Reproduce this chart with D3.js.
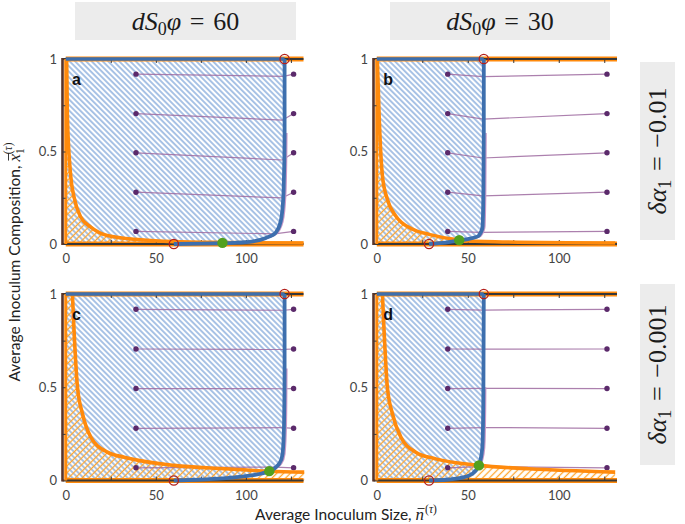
<!DOCTYPE html>
<html>
<head>
<meta charset="utf-8" />
<title>Inoculum phase plane</title>
<style>
  body { margin: 0; background: #fff; }
  svg text { font-family: Lato, "Open Sans", sans-serif; }
</style>
</head>
<body>
<script src="https://d3js.org/d3.v7.min.js"></script>
<script>
    // tick values / labels
    var xTicks = [0, 50, 100];
    var yTicks = [0, 0.5, 1];
    var minorX = [25, 50, 75, 100, 125];
    var minorY = [0.25, 0.5, 0.75];
    var colValues = ["60", "30"];
    var rowValues = ["\u22120.01", "\u22120.001"];
    var letters = ["a", "b", "c", "d"];

    // blue nullcline [n, x], sorted by x
    var blueA = [[60,0],[75,0.002],[87,0.004],[95,0.007],[104.5,0.015],[112,0.036],[116.7,0.063],[119.8,0.145],[121,0.3],[121.5,0.6],[121.5,1]];
    var blueB = [[28.7,0],[37.8,0.008],[45.3,0.02],[50.6,0.028],[56.1,0.045],[58.2,0.099],[58.6,0.3],[58.8,0.6],[58.8,1]];
    var blueC = [[60,0],[75,0.005],[85,0.01],[95,0.018],[105,0.03],[113,0.05],[118.5,0.09],[120.4,0.143],[121.2,0.3],[121.5,0.6],[121.5,1]];
    var blueD = [[28.7,0],[37.8,0.004],[47,0.015],[52.5,0.036],[56.1,0.081],[57.6,0.143],[58.2,0.215],[58.6,0.5],[58.8,1]];

    // orange nullcline [n, x], sorted by n
    var orangeA = [[0.5,1],[0.9,0.69],[2.8,0.363],[4.6,0.254],[8.3,0.146],[13.9,0.091],[23,0.046],[41.7,0.023],[60,0.013],[87,0.008],[132,0.005]];
    var orangeB = [[0.3,1],[1.3,0.69],[3.1,0.368],[5.8,0.242],[10.4,0.152],[19.5,0.081],[28.7,0.052],[45.3,0.022],[65,0.012],[131,0.005]];
    var orangeC = [[3.7,1],[4.6,0.806],[6.5,0.502],[9.3,0.358],[13.9,0.233],[23.1,0.152],[32.4,0.125],[60.2,0.081],[88,0.063],[113,0.05],[132.4,0.045]];
    var orangeD = [[3.1,1],[4,0.806],[5.8,0.502],[8.6,0.358],[13.2,0.233],[21.4,0.152],[32.4,0.116],[56.1,0.081],[83.5,0.063],[131,0.045]];

    // fixed points
    var greenPts = [[87,0.006],[45.3,0.021],[113,0.05],[56.1,0.081]];
    var redTopN = [121.5, 58.8, 121.5, 58.8];
    var redBottomN = [60, 28.7, 60, 28.7];

    // trajectories
    var trajStartN = [39, 126.5];
    var trajStartX = [0.918, 0.705, 0.493, 0.28, 0.068];
    var trajEndA = [[121,0.906],[120.5,0.67],[120.3,0.454],[120,0.249],[116,0.055]];
    var trajEndB = [[58.5,0.905],[58.5,0.675],[58.3,0.465],[58.2,0.26],[57,0.063]];
    var trajEndC = [[121.2,0.913],[121.2,0.703],[121,0.492],[120.8,0.283],[116,0.072]];
    var trajEndD = [[58.6,0.914],[58.5,0.704],[58.4,0.494],[58.2,0.284],[56,0.074]];

    var width = 685, height = 524;
    var svg = d3.select("body").append("svg")
                .attr("width", width)
                .attr("height", height);

    var defs = svg.append("defs");
    function hatch(id, color, angle, gap, sw) {
        var p = defs.append("pattern")
                    .attr("id", id)
                    .attr("patternUnits", "userSpaceOnUse")
                    .attr("width", gap)
                    .attr("height", gap)
                    .attr("patternTransform", "rotate(" + angle + ")");
        p.append("line")
         .attr("x1", gap / 2).attr("x2", gap / 2)
         .attr("y1", 0).attr("y2", gap)
         .attr("stroke", color)
         .attr("stroke-width", sw);
    }
    hatch("hBlue", "#76a0d6", -45, 3.9, 1.25);
    hatch("hOrange", "#ffa62e", 45, 4.8, 1.3);

    var cols = [{left: 62.5, right: 303.5}, {left: 373.5, right: 617}];
    var rows = [{top: 59, bottom: 244}, {top: 294, bottom: 480.5}];

    var panels = [
        {blue: blueA, orange: orangeA, ends: trajEndA, col: 0, row: 0},
        {blue: blueB, orange: orangeB, ends: trajEndB, col: 1, row: 0},
        {blue: blueC, orange: orangeC, ends: trajEndC, col: 0, row: 1},
        {blue: blueD, orange: orangeD, ends: trajEndD, col: 1, row: 1}
    ];

    var blueCol = "#3d6fae", orangeCol = "#ff8a0c", frameCol = "#383838";

    panels.forEach(function(p, i) {
        var c = cols[p.col], r = rows[p.row];
        var x = d3.scaleLinear().domain([-1.8, 132]).range([c.left, c.right]);
        var y = d3.scaleLinear().domain([0, 1]).range([r.bottom, r.top]);
        var g = svg.append("g");

        // hatched basins
        var blueArea = d3.area().curve(d3.curveMonotoneY)
                         .y(d => y(d[1]))
                         .x0(x(0))
                         .x1(d => x(d[0]));
        g.append("path").datum(p.blue)
         .attr("d", blueArea)
         .attr("fill", "url(#hBlue)");

        var orangeArea = d3.area().curve(d3.curveMonotoneX)
                           .x(d => x(d[0]))
                           .y0(y(0))
                           .y1(d => y(d[1]));
        g.append("path").datum([[0, 1]].concat(p.orange))
         .attr("d", orangeArea)
         .attr("fill", "url(#hOrange)");

        // boundaries
        [0, 1].forEach(function(v) {
            g.append("line")
             .attr("x1", x(0)).attr("x2", c.right)
             .attr("y1", y(v)).attr("y2", y(v))
             .attr("stroke", orangeCol).attr("stroke-width", 5);
            g.append("line")
             .attr("x1", c.left).attr("x2", c.right)
             .attr("y1", y(v)).attr("y2", y(v))
             .attr("stroke", frameCol).attr("stroke-width", 2.2);
        });
        g.append("line")
         .attr("x1", x(0)).attr("x2", x(0))
         .attr("y1", y(0)).attr("y2", y(1))
         .attr("stroke", orangeCol).attr("stroke-width", 3);
        g.append("line")
         .attr("x1", c.left).attr("x2", c.left)
         .attr("y1", y(0) + 1).attr("y2", y(1) - 1)
         .attr("stroke", "#5a3428").attr("stroke-width", 2.6);

        // inner ticks
        g.append("g").attr("transform", "translate(0," + y(1) + ")")
         .call(d3.axisTop(x).tickValues(minorX).tickSize(-4).tickFormat(""))
         .call(a => a.select(".domain").remove())
         .selectAll("line").attr("stroke", frameCol);
        g.append("g").attr("transform", "translate(0," + y(0) + ")")
         .call(d3.axisBottom(x).tickValues(minorX).tickSize(-4).tickFormat(""))
         .call(a => a.select(".domain").remove())
         .selectAll("line").attr("stroke", frameCol);
        g.append("g").attr("transform", "translate(" + c.left + ",0)")
         .call(d3.axisLeft(y).tickValues(minorY).tickSize(-3).tickFormat(""))
         .call(a => a.select(".domain").remove())
         .selectAll("line").attr("stroke", frameCol);

        // tick labels
        var xa = g.append("g").attr("transform", "translate(0," + r.bottom + ")")
                  .call(d3.axisBottom(x).tickValues(xTicks).tickSize(0).tickPadding(10));
        xa.select(".domain").remove();
        xa.selectAll("text").attr("fill", "#444").style("font-size", "13px")
          .style("font-family", "Lato, sans-serif");
        var ya = g.append("g").attr("transform", "translate(" + c.left + ",0)")
                  .call(d3.axisLeft(y).tickValues(yTicks).tickSize(0).tickPadding(5.5)
                        .tickFormat(d3.format("")));
        ya.select(".domain").remove();
        ya.selectAll("text").attr("fill", "#444").style("font-size", "13px")
          .style("font-family", "Lato, sans-serif");

        // trajectories
        var line = d3.line().x(d => x(d[0])).y(d => y(d[1]));
        p.ends.forEach(function(e, j) {
            trajStartN.forEach(function(n0) {
                g.append("path").datum([[n0, trajStartX[j]], e])
                 .attr("d", line)
                 .attr("fill", "none")
                 .attr("stroke", "#9d6aa0")
                 .attr("stroke-opacity", 0.85)
                 .attr("stroke-width", 1.2);
            });
        });
        // paths that creep down the blue nullcline
        var green = greenPts[i];
        var halo = p.blue.filter(d => d[1] >= green[1] && d[1] <= trajStartX[0]);
        g.append("path").datum([green].concat(halo))
         .attr("d", d3.line().curve(d3.curveMonotoneY).x(d => x(d[0]) + 2.2).y(d => y(d[1])))
         .attr("fill", "none")
         .attr("stroke", "#c89ac8")
         .attr("stroke-width", 1.6);

        p.ends.forEach(function(e, j) {
            trajStartN.forEach(function(n0) {
                g.append("circle")
                 .attr("cx", x(n0)).attr("cy", y(trajStartX[j]))
                 .attr("r", 2.7)
                 .attr("fill", "#5b2a6b");
            });
        });

        // nullclines
        g.append("path").datum(p.orange)
         .attr("d", d3.line().curve(d3.curveMonotoneX).x(d => x(d[0])).y(d => y(d[1])))
         .attr("fill", "none")
         .attr("stroke", orangeCol)
         .attr("stroke-width", 3.6);
        g.append("line")
         .attr("x1", x(0)).attr("x2", x(redTopN[i]))
         .attr("y1", y(1)).attr("y2", y(1))
         .attr("stroke", blueCol).attr("stroke-width", 3.4);
        g.append("path").datum(p.blue)
         .attr("d", d3.line().curve(d3.curveMonotoneY).x(d => x(d[0])).y(d => y(d[1])))
         .attr("fill", "none")
         .attr("stroke", blueCol)
         .attr("stroke-width", 3.8);

        // fixed points
        [redTopN[i], redBottomN[i]].forEach(function(n, k) {
            g.append("circle")
             .attr("cx", x(n)).attr("cy", y(k === 0 ? 1 : 0))
             .attr("r", 4.6)
             .attr("fill", "none")
             .attr("stroke", "#b3201c")
             .attr("stroke-width", 1.3);
        });
        g.append("circle")
         .attr("cx", x(green[0])).attr("cy", y(green[1]))
         .attr("r", 5.2)
         .attr("fill", "#52a01e");

        g.append("text")
         .attr("x", x(3.5)).attr("y", y(0.86))
         .style("font-family", "'Liberation Sans', Arial, sans-serif")
         .style("font-weight", "bold")
         .style("font-size", "16px")
         .attr("fill", "#111")
         .text(letters[i]);
    });

    // strips
    var serif = "'Liberation Serif', 'DejaVu Serif', serif";
    var topBoxes = [{x: 75, w: 221}, {x: 390, w: 220}];
    topBoxes.forEach(function(b, k) {
        svg.append("rect").attr("x", b.x).attr("y", 2).attr("width", b.w).attr("height", 38)
           .attr("fill", "#ececec");
        var t = svg.append("text")
                   .attr("x", b.x + b.w / 2).attr("y", 29.5)
                   .attr("text-anchor", "middle")
                   .style("font-family", serif)
                   .style("font-size", "26px")
                   .attr("fill", "#1a1a1a");
        t.append("tspan").style("font-style", "italic").text("dS");
        t.append("tspan").attr("dy", 5).style("font-size", "18px").text("0");
        t.append("tspan").attr("dy", -5).style("font-style", "italic").text("\u03C6");
        t.append("tspan").text("\u2004=\u2004" + colValues[k]);
    });

    var sideBoxes = [{y: 62, h: 178}, {y: 284, h: 181}];
    sideBoxes.forEach(function(b, k) {
        svg.append("rect").attr("x", 640).attr("y", b.y).attr("width", 35).attr("height", b.h)
           .attr("fill", "#ececec");
        var cx = 657.5, cy = b.y + b.h / 2;
        var t = svg.append("text")
                   .attr("transform", "translate(" + (cx + 8) + "," + cy + ") rotate(-90)")
                   .attr("text-anchor", "middle")
                   .style("font-family", serif)
                   .style("font-size", "26px")
                   .attr("fill", "#1a1a1a");
        t.append("tspan").style("font-style", "italic").text("\u03B4\u03B1");
        t.append("tspan").attr("dy", 5).style("font-size", "18px").text("1");
        t.append("tspan").attr("dy", -5).text("\u2004=\u2004" + rowValues[k]);
    });

    // axis titles, with a drawn bar over the math symbol
    function bar(g, node) {
        var bb = node.getBBox();
        g.append("line")
         .attr("x1", bb.x + 2).attr("x2", bb.x + bb.width + 0.5)
         .attr("y1", bb.y + 3.5).attr("y2", bb.y + 3.5)
         .attr("stroke", "#222").attr("stroke-width", 0.9);
    }

    var xg = svg.append("g").attr("transform", "translate(346,520)");
    var xt = xg.append("text")
               .attr("text-anchor", "middle")
               .style("font-size", "15.5px")
               .attr("fill", "#222");
    xt.append("tspan").text("Average Inoculum Size, ");
    var nSym = xt.append("tspan").style("font-family", serif).style("font-style", "italic").style("font-size", "17px").text("n");
    xt.append("tspan").attr("dx", 1).attr("dy", -7).style("font-family", serif).style("font-size", "11.5px").text("(");
    xt.append("tspan").style("font-family", serif).style("font-style", "italic").style("font-size", "11.5px").text("\u03C4");
    xt.append("tspan").style("font-family", serif).style("font-size", "11.5px").text(")");
    bar(xg, nSym.node());

    var yg = svg.append("g").attr("transform", "translate(20,262) rotate(-90)");
    var yt = yg.append("text")
               .attr("text-anchor", "middle")
               .style("font-size", "15.5px")
               .attr("fill", "#222");
    yt.append("tspan").text("Average Inoculum Composition, ");
    var xSym = yt.append("tspan").style("font-family", serif).style("font-style", "italic").style("font-size", "17px").text("x");
    yt.append("tspan").attr("dy", 4).style("font-family", serif).style("font-size", "11.5px").text("1");
    yt.append("tspan").attr("dx", -6).attr("dy", -12).style("font-family", serif).style("font-size", "11.5px").text("(");
    yt.append("tspan").style("font-family", serif).style("font-style", "italic").style("font-size", "11.5px").text("\u03C4");
    yt.append("tspan").style("font-family", serif).style("font-size", "11.5px").text(")");
    bar(yg, xSym.node());
</script>
</body>
</html>
